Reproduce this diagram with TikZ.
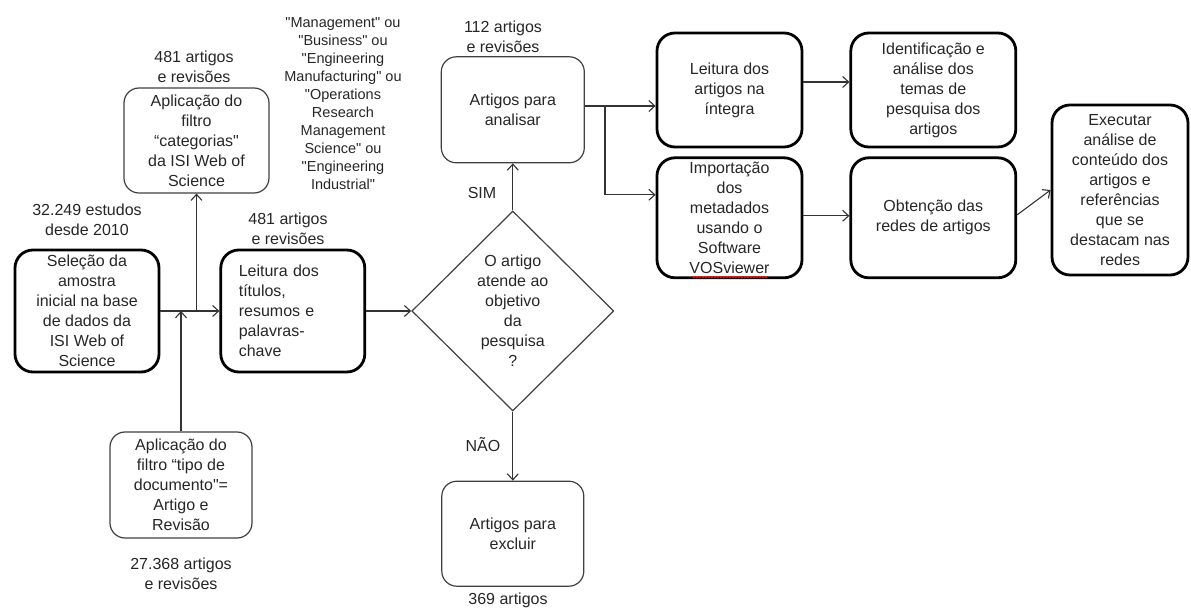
\documentclass[tikz,border=0pt]{standalone}
\usepackage{fontspec}
\setmainfont{Liberation Sans}[Ligatures=TeXOff]
\usetikzlibrary{positioning,arrows.meta,shapes.geometric,decorations.pathmorphing}

\begin{document}
\begin{tikzpicture}
		[x=1pt,y=-1pt,
		>={Straight Barb[length=6pt,width=11pt]},
		base/.style={rectangle,align=center,inner sep=0pt,text=black!85,font=\fontsize{16}{20}\selectfont},
		thinbox/.style={base,draw=black!75,line width=1.2pt,rounded corners=15pt},
		thickbox/.style={base,draw=black,line width=2.8pt,rounded corners=18pt},
		decision/.style={diamond,aspect=1,draw=black!75,line width=1.2pt,inner sep=0pt,minimum width=202pt,minimum height=200pt,align=center,text=black!85,font=\fontsize{16}{20}\selectfont},
		count/.style={align=center,inner sep=0pt,text=black!85,font=\fontsize{16}{20}\selectfont},
		conn/.style={->,draw=black!80,line width=1.1pt}]
		\useasboundingbox (0,0) rectangle (1191,609);

		% left part
		\node [thickbox,minimum width=144pt,minimum height=122pt] (sel) at (87,311) {Seleção da\\amostra\\inicial na base\\de dados da\\ISI Web of\\Science};
		\node [thickbox,minimum width=144pt,minimum height=122pt,text width=108pt,align=left] (tit) [right=59pt of sel] {Leitura dos\\títulos,\\resumos e\\palavras-\\chave};
		\node [thinbox,minimum width=145pt,minimum height=105pt] (cat) at (196.5,140.5) {Aplicação do\\filtro\\“categorias"\\da ISI Web of\\Science};
		\node [thinbox,minimum width=142pt,minimum height=106pt] (doc) at (181,485) {Aplicação do\\filtro “tipo de\\documento"=\\Artigo e\\Revisão};

		\node [count] (n481a) at (194,67) {481 artigos\\e revisões};
		\node [count] (n32) at (87,220) {32.249 estudos\\desde 2010};
		\node [count] (n481b) at (288,229) {481 artigos\\e revisões};
		\node [count] (n27) at (181,574) {27.368 artigos\\e revisões};
		\node [count,font=\fontsize{14.5}{18}\selectfont] (cats) at (343,104) {"Management" ou\\"Business" ou\\"Engineering\\Manufacturing" ou\\"Operations\\Research\\Management\\Science" ou\\"Engineering\\Industrial"};

		% decision
		\node [decision] (dec) [right=45pt of tit] {O artigo\\atende ao\\objetivo\\da\\pesquisa\\?};
		\node [thinbox,minimum width=143pt,minimum height=106pt] (ana) [above=47pt of dec] {Artigos para\\analisar};
		\node [thinbox,minimum width=142pt,minimum height=105pt] (exc) [below=69pt of dec] {Artigos para\\excluir};
		\node [count] (n112) at (503,37) {112 artigos\\e revisões};
		\node [count] (sim) at (482,193) {SIM};
		\node [count] (nao) at (483,445) {NÃO};
		\node [count] (n369) at (508,600) {369 artigos};

		% right part
		\node [thickbox,minimum width=145pt,minimum height=114pt] (int) at (729.5,90) {Leitura dos\\artigos na\\íntegra};
		\node [thickbox,minimum width=145pt,minimum height=120pt] (imp) [below=8pt of int] {Importação\\dos\\metadados\\usando o\\Software\\VOSviewer};
		\node [thickbox,minimum width=165pt,minimum height=114pt] (ide) [right=46pt of int] {Identificação e\\análise dos\\temas de\\pesquisa dos\\artigos};
		\node [thickbox,minimum width=165pt,minimum height=120pt] (obt) [right=46pt of imp] {Obtenção das\\redes de artigos};
		\node [thickbox,minimum width=136pt,minimum height=170pt] (exe) at (1120,190) {Executar\\análise de\\conteúdo dos\\artigos e\\referências\\que se\\destacam nas\\redes};
		\draw [red,line width=0.8pt,decorate,decoration={snake,amplitude=0.8pt,segment length=3pt}] ([xshift=-38pt,yshift=2pt]imp.south) -- ([xshift=38pt,yshift=2pt]imp.south);

		\coordinate (fork) at (605,106);

		\draw [conn] (sel) -- (tit);
		\draw [conn] (cat.south |- sel.east) -- (cat);
		\draw [conn] (doc) -- (doc.north |- sel.east);
		\draw [conn] (tit) -- (dec);
		\draw [conn] (dec) -- (ana);
		\draw [conn] (dec) -- (exc);
		\draw [conn] (fork -| ana.east) -- (fork -| int.west);
		\draw [conn] (fork) |- ([yshift=23pt]imp.west);
		\draw [conn] ([yshift=8pt]int.east) -- ([yshift=8pt]ide.west);
		\draw [conn] ([yshift=2pt]imp.east) -- ([yshift=2pt]obt.west);
		\draw [conn] ([yshift=3pt]obt.east) -- (exe.west);

	\end{tikzpicture}
\end{document}
